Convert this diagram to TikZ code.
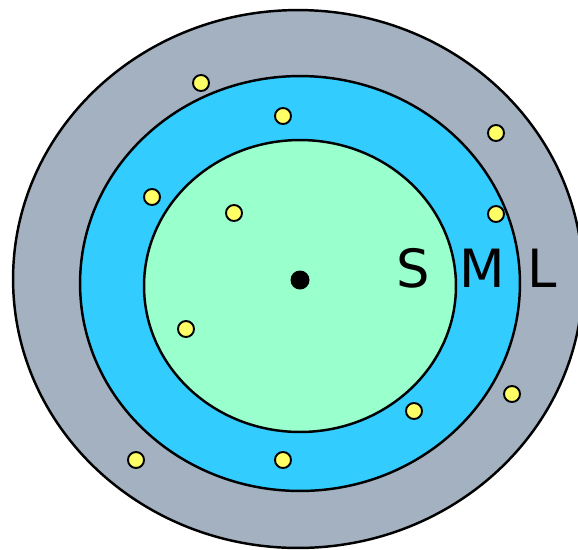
\documentclass[tikz,border=0pt]{standalone}
\usepackage{fontspec}
\setmainfont{DejaVu Sans}
\usepackage{tikz}
\usetikzlibrary{shapes.geometric}
\definecolor{ringgray}{HTML}{A3B1C0}
\definecolor{ringblue}{HTML}{33CCFF}
\definecolor{ringgreen}{HTML}{99FFCC}
\definecolor{dotyellow}{HTML}{FFFF66}

\begin{document}
\begin{tikzpicture}[
  x=0.02cm,y=-0.02cm,
  ring/.style={ellipse,draw=black,line width=1.4pt,inner sep=0pt},
  item/.style={circle,draw=black,fill=dotyellow,line width=1.1pt,minimum size=0.32cm,inner sep=0pt},
  hub/.style={circle,fill=black,minimum size=0.38cm,inner sep=0pt},
  size/.style={font=\fontsize{30}{30}\selectfont,anchor=base,inner sep=0pt}
]
\useasboundingbox (0,0) rectangle (578,549);

\node[ring,fill=ringgray,minimum width=11.4cm,minimum height=10.76cm] (large) at (298,279) {};
\node[ring,fill=ringblue,minimum width=8.8cm,minimum height=8.3cm] (medium) at (300,283.5) {};
\node[ring,fill=ringgreen,minimum width=6.24cm,minimum height=5.84cm] (small) at (300,286) {};

\node[hub] (centre) at (300,280) {};

\node[size] (labS) at (413,287) {S};
\node[size] (labM) at (482,287) {M};
\node[size] (labL) at (542,287) {L};

% yellow points
\node[item] (p1) at (201,83) {};
\node[item] (p2) at (283,116) {};
\node[item] (p3) at (496,133) {};
\node[item] (p4) at (152,197) {};
\node[item] (p5) at (234,213) {};
\node[item] (p6) at (496,214) {};
\node[item] (p7) at (186,329) {};
\node[item] (p8) at (512,394) {};
\node[item] (p9) at (414,411) {};
\node[item] (p10) at (136,460) {};
\node[item] (p11) at (283,460) {};
\end{tikzpicture}
\end{document}
